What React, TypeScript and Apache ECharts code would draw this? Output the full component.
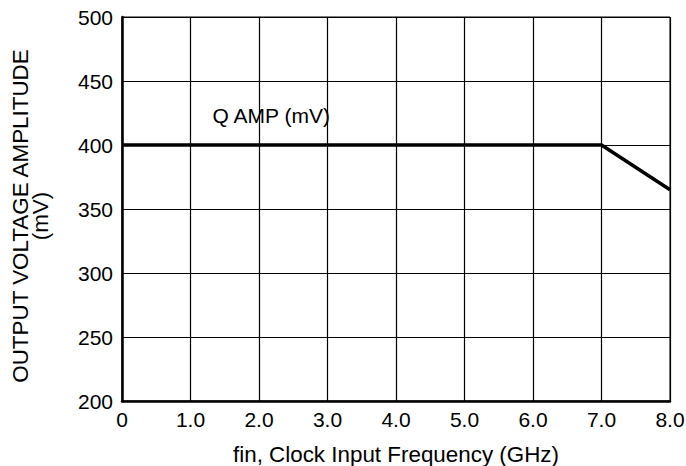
import React, { useEffect, useRef } from "react";
import * as echarts from "echarts";

const xValues = [0, 7.0, 8.0];
const qAmp = [400, 400, 365];
const xTickLabels = ["0", "1.0", "2.0", "3.0", "4.0", "5.0", "6.0", "7.0", "8.0"];
const seriesName = "Q AMP (mV)";
const labelPoint = [2.18, 423];

export default function App() {
  const ref = useRef<HTMLDivElement>(null);
  useEffect(() => {
    const chart = echarts.init(ref.current!, null, { renderer: "svg" });
    const font = "Liberation Sans, Arial, Helvetica, sans-serif";
    chart.setOption({
      animation: false,
      backgroundColor: "#ffffff",
      grid: {
        left: 122,
        right: 16,
        top: 17,
        bottom: 65,
        show: true,
        borderColor: "#000",
        borderWidth: 1,
        containLabel: false,
        outerBoundsMode: "none",
      },
      xAxis: {
        type: "value",
        min: 0,
        max: 8,
        interval: 1,
        name: "fin, Clock Input Frequency (GHz)",
        nameLocation: "middle",
        nameGap: 42,
        nameTextStyle: { fontFamily: font, fontSize: 22.4, color: "#000" },
        axisLine: { show: true, onZero: false, lineStyle: { color: "#000", width: 2.5 } },
        axisTick: { show: false },
        splitLine: { show: true, lineStyle: { color: "#000", width: 1.2 } },
        axisLabel: {
          fontFamily: font,
          fontSize: 21,
          color: "#000",
          margin: 8,
          formatter: (v: number) => xTickLabels[Math.round(v)] ?? String(v),
        },
      },
      yAxis: {
        type: "value",
        min: 200,
        max: 500,
        interval: 50,
        name: "OUTPUT VOLTAGE AMPLITUDE\n(mV)",
        nameLocation: "middle",
        nameGap: 72,
        nameTextStyle: {
          fontFamily: font,
          fontSize: 22.4,
          color: "#000",
          lineHeight: 20,
          padding: [0, 14, 0, 0],
        },
        axisLine: { show: true, lineStyle: { color: "#000", width: 2.5 } },
        axisTick: { show: false },
        splitLine: { show: true, lineStyle: { color: "#000", width: 1.2 } },
        axisLabel: { fontFamily: font, fontSize: 21, color: "#000", margin: 9 },
      },
      series: [
        {
          name: seriesName,
          type: "line",
          data: xValues.map((x, i) => [x, qAmp[i]]),
          symbol: "none",
          lineStyle: { color: "#000", width: 3.5 },
          markPoint: {
            symbol: "circle",
            symbolSize: 0,
            label: {
              show: true,
              formatter: seriesName,
              fontFamily: font,
              fontSize: 21,
              color: "#000",
              position: "inside",
            },
            data: [{ coord: labelPoint }],
          },
        },
      ],
    });
    return () => chart.dispose();
  }, []);
  return (
    <div
      ref={ref}
      style={{ position: "fixed", left: 0, top: 0, width: 686, height: 466 }}
    />
  );
}
